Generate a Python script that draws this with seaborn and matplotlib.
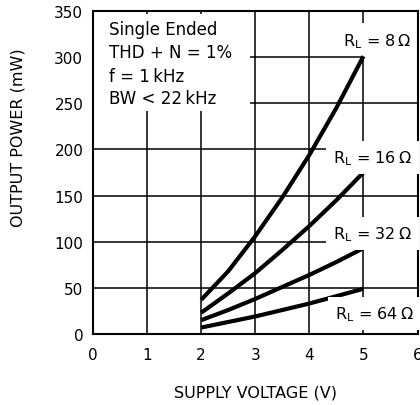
import matplotlib
matplotlib.use("Agg")
import matplotlib.pyplot as plt
from matplotlib.patches import Rectangle
import seaborn as sns
import pandas as pd

# ---- data ----
supply_voltage = [2.0, 2.5, 3.0, 3.5, 4.0, 4.5, 5.0]
p_8ohm = [37, 68, 106, 148, 194, 245, 301]
p_16ohm = [23, 44, 66, 91, 117, 145, 175]
p_32ohm = [15, 26, 38, 51, 64, 78, 93]
p_64ohm = [7, 13, 19, 26, 33, 41, 49]
loads = ["8", "16", "32", "64"]
x_ticks = [0, 1, 2, 3, 4, 5, 6]
y_ticks = [0, 50, 100, 150, 200, 250, 300, 350]
info_lines = ["Single Ended", "THD + N = 1%", "f = 1\u2009kHz", "BW < 22\u2009kHz"]

series = [p_8ohm, p_16ohm, p_32ohm, p_64ohm]
rows = []
for r, vals in zip(loads, series):
    for v, p in zip(supply_voltage, vals):
        rows.append({"V": v, "P": p, "R": r})
df = pd.DataFrame(rows)

sns.set_theme(style="white")
plt.rcParams["font.family"] = ["DejaVu Sans"]
plt.rcParams["mathtext.default"] = "regular"
plt.rcParams["text.color"] = "black"
plt.rcParams["axes.labelcolor"] = "black"

fig = plt.figure(figsize=(4.2, 4.06), dpi=100)
ax = fig.add_axes([93 / 420, 1 - 335 / 406, (417.5 - 93) / 420, (335 - 12) / 406])

sns.lineplot(data=df, x="V", y="P", hue="R", hue_order=loads,
             palette=["black"] * 4, legend=False, linewidth=3.0,
             ax=ax, zorder=2)
for ln in ax.lines:
    ln.set_solid_capstyle("butt")
    ln.set_solid_joinstyle("round")

ax.set_xlim(0, 6)
ax.set_ylim(0, 350)
ax.set_xticks(x_ticks)
ax.set_yticks(y_ticks)
ax.set_xticklabels([str(t) for t in x_ticks])
ax.set_yticklabels([str(t) for t in y_ticks])
ax.set_axisbelow(True)
ax.grid(True, color="black", linewidth=1.1)
ax.tick_params(axis="both", length=0, labelsize=11, colors="black")
ax.tick_params(axis="x", pad=9)
ax.tick_params(axis="y", pad=7)
for s in ax.spines.values():
    s.set_color("black")
    s.set_linewidth(1.5)

ax.set_xlabel("SUPPLY VOLTAGE (V)", fontsize=11.5, color="black")
ax.set_ylabel("OUTPUT POWER (mW)", fontsize=11.5, color="black")
ax.xaxis.set_label_coords(0.5, -0.155)
ax.yaxis.set_label_coords(-0.209, 0.61)

# condition box (white background masking grid)
ax.add_patch(Rectangle((0, 242), 2.9, 105, facecolor="white",
                       edgecolor="none", zorder=1))
for txt, yv in zip(info_lines, [330.5, 305.5, 279.5, 255.7]):
    ax.text(0.3, yv, txt, fontsize=12, va="center", ha="left",
            color="black", zorder=3)

# mask behind the 8 ohm label (right of the curve end)
ax.add_patch(Rectangle((4.95, 297), 1.05, 40, facecolor="white",
                       edgecolor="none", zorder=1))

# load labels
lbl_bbox = dict(boxstyle="square,pad=0.45", facecolor="white", edgecolor="none")
label_pos = [(4.63, 313), (4.44, 186.4), (4.44, 103.7), (4.48, 17)]
for i, (r, (lx, ly)) in enumerate(zip(loads, label_pos)):
    ax.text(lx, ly, "R$_{L}$ = " + r + "\u2009\u03a9", fontsize=11.5,
            ha="left", va="baseline", color="black",
            bbox=None if i == 0 else lbl_bbox, zorder=3)

fig.savefig("out.png", dpi=100)
